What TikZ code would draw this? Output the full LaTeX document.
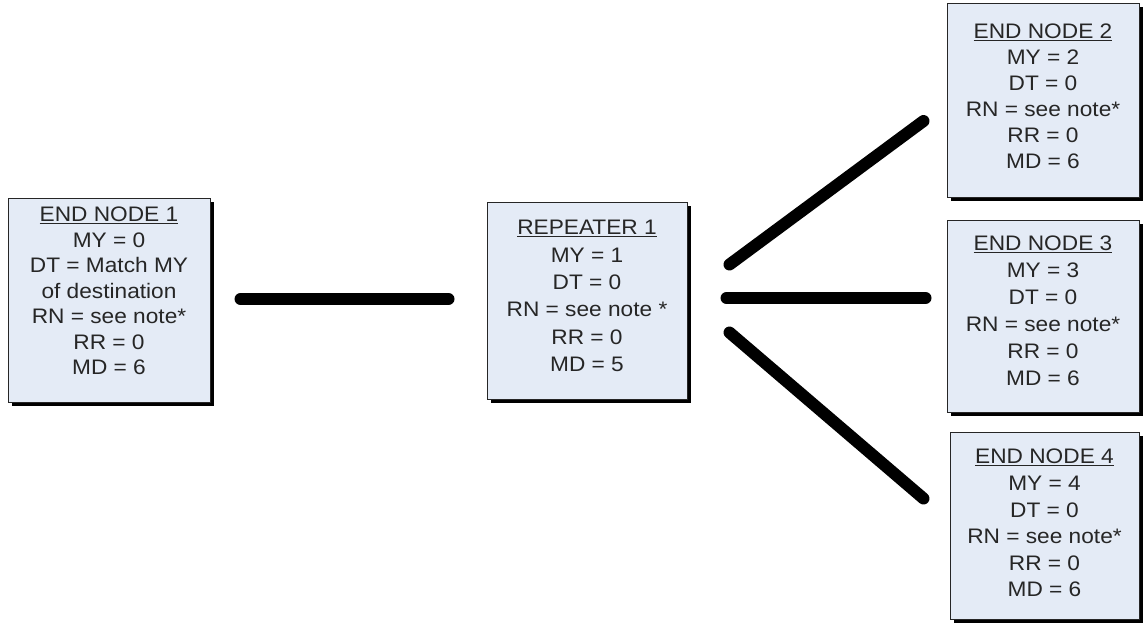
\documentclass[tikz,border=0pt]{standalone}
\usepackage{fontspec}
\setmainfont{Liberation Sans}[FakeStretch=1.08]
\usetikzlibrary{calc,shadows}
\definecolor{boxfill}{RGB}{228,235,246}
\definecolor{txt}{RGB}{38,38,38}
\begin{document}
\begin{tikzpicture}[x=1pt,y=-1pt,
  box/.style={draw=black!85, line width=1pt, fill=boxfill, rectangle, inner sep=0pt,
    drop shadow={shadow xshift=3.5pt, shadow yshift=-3.5pt, fill=black, opacity=1}},
  lbl/.style={anchor=north, inner sep=0pt, align=center, text=txt},
  link/.style={line width=12pt, line cap=round, black}]
\useasboundingbox (0,0) rectangle (1145,625);

% boxes
\node[box, minimum width=202pt, minimum height=204pt] (en1) at (109,300) {};
\node[box, minimum width=200pt, minimum height=197pt] (rep) at (587,300.5) {};
\node[box, minimum width=192pt, minimum height=194pt] (en2) at (1043,100) {};
\node[box, minimum width=192pt, minimum height=192pt] (en3) at (1043,316) {};
\node[box, minimum width=189pt, minimum height=187pt] (en4) at (1044.5,525.5) {};

% texts
\node[lbl, font=\fontsize{21}{25.5}\selectfont] (en1t) at ($(en1.north)+(0,9.5)$)
  {\underline{END NODE 1}\\MY = 0\\DT = Match MY\\of destination\\RN = see note*\\RR = 0\\MD = 6};
\node[lbl, font=\fontsize{21}{27.4}\selectfont] (rept) at ($(rep.north)+(0,18.5)$)
  {\underline{REPEATER 1}\\MY = 1\\DT = 0\\RN = see note *\\RR = 0\\MD = 5};
\node[lbl, font=\fontsize{21}{26}\selectfont] (en2t) at ($(en2.north)+(0,21.5)$)
  {\underline{END NODE 2}\\MY = 2\\DT = 0\\RN = see note*\\RR = 0\\MD = 6};
\node[lbl, font=\fontsize{21}{27}\selectfont] (en3t) at ($(en3.north)+(0,16.5)$)
  {\underline{END NODE 3}\\MY = 3\\DT = 0\\RN = see note*\\RR = 0\\MD = 6};
\node[lbl, font=\fontsize{21}{26.6}\selectfont] (en4t) at ($(en4.north)+(0,17.5)$)
  {\underline{END NODE 4}\\MY = 4\\DT = 0\\RN = see note*\\RR = 0\\MD = 6};

% connectors
\draw[link] ($(en1.east)+(30,-1)$) -- ($(rep.west)+(-38,-1.5)$);
\draw[link] ($(rep.east)+(39,-2.5)$) -- ($(rep.east -| en3.west)+(-21,-2.5)$);
\draw[link] ($(rep.east)+(42,-36)$) -- ($(en2.west)+(-23,21)$);
\draw[link] ($(rep.east)+(42,32)$) -- ($(en4.west)+(-26,-27)$);
\end{tikzpicture}
\end{document}
